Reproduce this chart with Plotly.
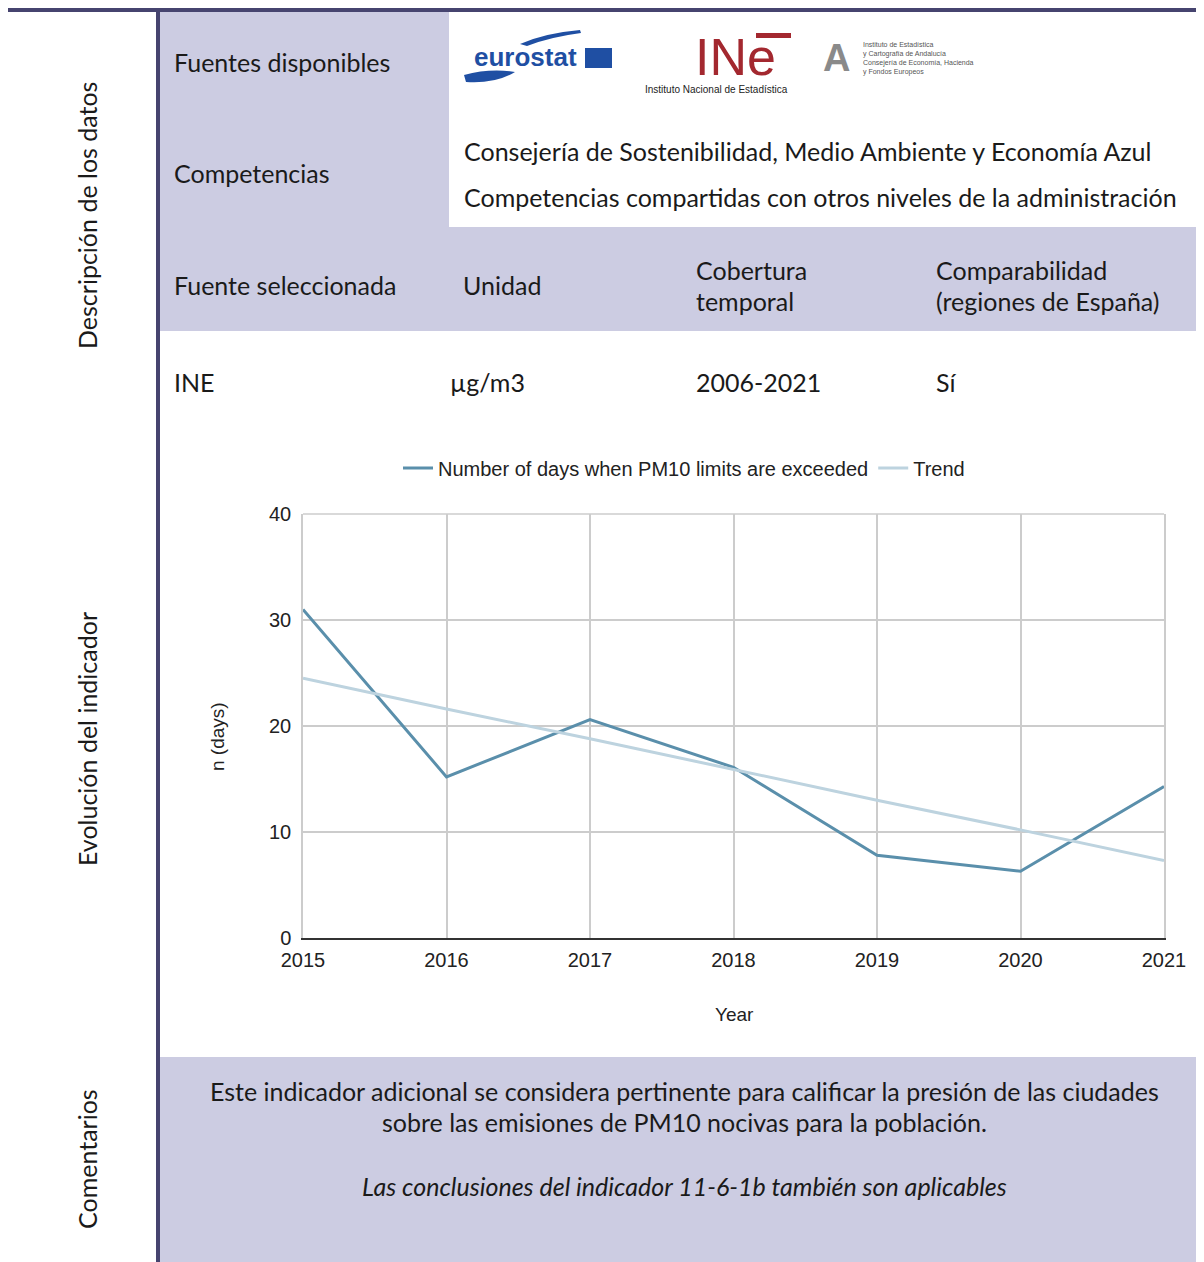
import plotly.graph_objects as go

# Data
years = [2015, 2016, 2017, 2018, 2019, 2020, 2021]
days_exceeded = [31.0, 15.2, 20.6, 16.1, 7.8, 6.3, 14.3]
trend = [24.5, 21.6, 18.8, 15.9, 13.0, 10.2, 7.3]
y_ticks = [0, 10, 20, 30, 40]

series_name = 'Number of days when PM10 limits are exceeded'
trend_name = 'Trend'

# the page body has an 8px margin, so the figure is drawn 8px smaller and positions are shifted
OFF = 8
W, H = 1204 - OFF, 1262 - OFF
LAV = '#cccce2'
DARK = '#46446f'
TXT = '#1a1a1a'
BODY_FONT = 'Lato'
CHART_FONT = 'Liberation Sans'


def px(x):
    return (x - OFF) / W


def py(y):
    return 1 - (y - OFF) / H


def rect(x0, y0, x1, y1, color):
    return dict(type='rect', xref='paper', yref='paper', x0=px(x0), x1=px(x1),
                y0=py(y1), y1=py(y0), fillcolor=color, line_width=0, layer='below')


def label(text, x, y, size=25, xanchor='left', angle=0, color=TXT, font=BODY_FONT, **kw):
    return dict(text=text, x=px(x), y=py(y), xref='paper', yref='paper', showarrow=False,
                xanchor=xanchor, yanchor='middle', textangle=angle,
                font=dict(family=font, size=size, color=color), **kw)


fig = go.Figure()
fig.add_trace(go.Scatter(x=years, y=days_exceeded, name=series_name, mode='lines',
                         line=dict(color='#5a8fab', width=3)))
fig.add_trace(go.Scatter(x=years, y=trend, name=trend_name, mode='lines',
                         line=dict(color='#bdd3df', width=3)))

shapes = [
    rect(OFF, 4, 1204, 12, DARK),
    rect(156, 12, 160, 1262, DARK),
    rect(160, 12, 449, 227, LAV),
    rect(160, 227, 1204, 331, LAV),
    rect(160, 1057, 1204, 1262, LAV),
    # eurostat flag
    dict(type='rect', xref='paper', yref='paper', x0=px(585), x1=px(612), y0=py(68), y1=py(48),
         fillcolor='#1f4fa3', line_width=0),
    # eurostat swoosh
    dict(type='path', xref='paper', yref='paper',
         path=f'M {px(520)},{py(44)} Q {px(545)},{py(33)} {px(580)},{py(30)} L {px(581)},{py(33)} '
              f'Q {px(550)},{py(37)} {px(527)},{py(46)} Z',
         fillcolor='#1f4fa3', line_width=0),
    dict(type='path', xref='paper', yref='paper',
         path=f'M {px(464)},{py(75)} Q {px(490)},{py(68)} {px(515)},{py(72)} '
              f'Q {px(495)},{py(84)} {px(466)},{py(82)} Z',
         fillcolor='#1f4fa3', line_width=0),
    # INE bar over the e
    dict(type='rect', xref='paper', yref='paper', x0=px(756), x1=px(791), y0=py(38), y1=py(33),
         fillcolor='#a3282f', line_width=0),
    # top border of the plot
    dict(type='line', xref='x domain', yref='y domain', x0=0, x1=1, y0=1, y1=1,
         line=dict(color='#cccccc', width=1.5)),
]

annotations = [
    label('Descripción de los datos', 87, 216, angle=-90, xanchor='center'),
    label('Evolución del indicador', 87, 739, angle=-90, xanchor='center'),
    label('Comentarios', 87, 1159, angle=-90, xanchor='center'),
    label('Fuentes disponibles', 172, 62),
    label('Competencias', 172, 173),
    label('Consejería de Sostenibilidad, Medio Ambiente y Economía Azul', 462, 151),
    label('Competencias compartidas con otros niveles de la administración', 462, 197),
    label('Fuente seleccionada', 172, 285),
    label('Unidad', 461, 285),
    label('Cobertura', 694, 270),
    label('temporal', 694, 301),
    label('Comparabilidad', 934, 270),
    label('(regiones de España)', 934, 301),
    label('INE', 172, 382),
    label('µg/m3', 448, 382),
    label('2006-2021', 694, 382),
    label('Sí', 934, 382),
    label('Este indicador adicional se considera pertinente para calificar la presión de las ciudades',
          684, 1091, xanchor='center'),
    label('sobre las emisiones de PM10 nocivas para la población.', 684, 1122, xanchor='center'),
    label('<i>Las conclusiones del indicador 11-6-1b también son aplicables</i>', 684, 1186,
          xanchor='center'),
    # logos as text
    label('<b>eurostat</b>', 472, 57, size=26, color='#1f4fa3', font='Liberation Sans'),
    label('INe', 693, 57, size=52, color='#a3282f', font='Liberation Sans'),
    label('Instituto Nacional de Estadística', 716, 89, size=10, xanchor='center',
          color='#222', font='Liberation Sans'),
    label('<b>A</b>', 821, 58, size=38, color='#8a8a8a', font='Liberation Sans'),
    label('Instituto de Estadística<br>y Cartografía de Andalucía<br>Consejería de Economía, Hacienda'
          '<br>y Fondos Europeos', 861, 58, size=7, color='#555', font='Liberation Sans',
          align='left'),
    # axis titles
    label('Year', 734, 1014, size=19, xanchor='center', color='#222', font=CHART_FONT),
    label('n (days)', 217, 737, size=19, xanchor='center', angle=-90, color='#222', font=CHART_FONT),
]

fig.update_layout(
    width=W, height=H, margin=dict(l=0, r=0, t=0, b=0, autoexpand=False),
    paper_bgcolor='white', plot_bgcolor='white',
    shapes=shapes, annotations=annotations,
    font=dict(family=CHART_FONT, size=20, color='#222'),
    legend=dict(orientation='h', x=px(684), xanchor='center', y=py(468), yanchor='middle',
                font=dict(family=CHART_FONT, size=20, color='#222'), itemwidth=30,
                bgcolor='rgba(0,0,0,0)'),
    xaxis=dict(domain=[px(303), px(1164)], range=[2015, 2021], tickvals=years,
               showgrid=True, gridcolor='#cccccc', gridwidth=1.5, zeroline=False,
               showline=True, linecolor='#333333', linewidth=1.5, mirror=False,
               ticks='', tickfont=dict(size=20), ticklabelstandoff=3, automargin=False),
    yaxis=dict(domain=[py(938), py(514)], range=[0, 40], tickvals=y_ticks,
               showgrid=True, gridcolor='#cccccc', gridwidth=1.5, zeroline=False,
               showline=True, linecolor='#cccccc', linewidth=1.5, mirror=True,
               ticks='', tickfont=dict(size=20), ticklabelstandoff=6, automargin=False),
)

fig.write_html('out.html')
